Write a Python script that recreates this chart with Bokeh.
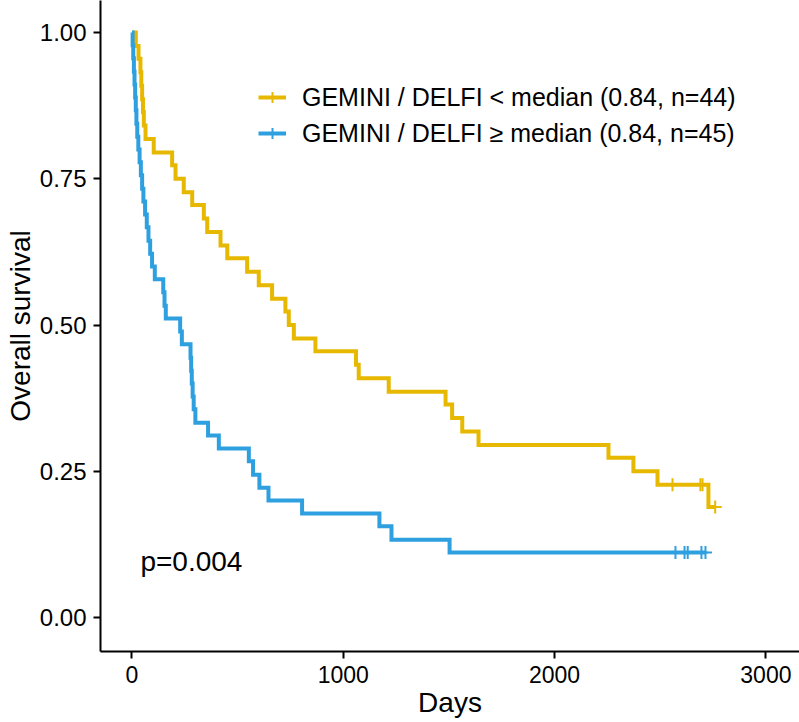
from bokeh.plotting import figure
from bokeh.models import Range1d, FixedTicker, Label, Legend, LegendItem, NumeralTickFormatter
from bokeh.embed import file_html
from bokeh.resources import INLINE

FONT = "Liberation Sans"

# ---- data ----
# Group: GEMINI / DELFI < median (n=44)
low_time = [0, 18, 31, 40, 44, 48, 52, 56, 64, 103, 190, 206, 245, 285, 340, 356,
            419, 451, 545, 600, 663, 726, 742, 766, 868, 1060, 1073, 1215, 1484,
            1515, 1563, 1640, 2255, 2373, 2487, 2728, 2760]
low_surv = [1.000, 0.977, 0.955, 0.932, 0.909, 0.886, 0.864, 0.841, 0.818, 0.795,
            0.773, 0.750, 0.727, 0.705, 0.682, 0.659, 0.636, 0.614, 0.591, 0.568,
            0.545, 0.523, 0.500, 0.477, 0.455, 0.432, 0.409, 0.386, 0.364, 0.341,
            0.318, 0.295, 0.273, 0.250, 0.227, 0.189, 0.189]
low_cens_time = [2558, 2690, 2700, 2760]
low_cens_surv = [0.227, 0.227, 0.227, 0.189]

# Group: GEMINI / DELFI >= median (n=45)
high_time = [0, 3, 6, 9, 12, 15, 18, 21, 25, 30, 36, 42, 48, 54, 62, 70, 78, 86, 95,
             108, 148, 154, 160, 228, 236, 277, 280, 283, 287, 292, 300, 360, 411,
             553, 573, 603, 646, 805, 1171, 1228, 1503, 2714]
high_surv = [1.000, 0.978, 0.956, 0.933, 0.911, 0.889, 0.867, 0.844, 0.822, 0.800,
             0.778, 0.756, 0.733, 0.711, 0.689, 0.667, 0.644, 0.622, 0.600, 0.578,
             0.556, 0.533, 0.511, 0.489, 0.467, 0.444, 0.422, 0.400, 0.378, 0.356,
             0.333, 0.311, 0.289, 0.267, 0.244, 0.222, 0.200, 0.178, 0.156, 0.133,
             0.111, 0.111]
high_cens_time = [2572, 2615, 2630, 2695, 2714]
high_cens_surv = [0.111, 0.111, 0.111, 0.111, 0.111]

labels = ["GEMINI / DELFI < median (0.84, n=44)", "GEMINI / DELFI \u2265 median (0.84, n=45)"]
colors = ["#E7B800", "#2E9FDF"]
x_ticks = [0, 1000, 2000, 3000]
y_ticks = [0.0, 0.25, 0.5, 0.75, 1.0]
p_text = "p=0.004"

# ---- figure ----
p = figure(width=799, height=722, output_backend="svg", toolbar_location=None,
           x_range=Range1d(-149, 3159), y_range=Range1d(-0.0581, 1.0547),
           min_border_left=100, min_border_right=0, min_border_top=0, min_border_bottom=71)
p.outline_line_color = None
p.xgrid.visible = False
p.ygrid.visible = False
p.background_fill_color = "white"

for ax in (p.xaxis[0], p.yaxis[0]):
    ax.axis_line_color = "black"
    ax.axis_line_width = 2
    ax.major_tick_line_color = "black"
    ax.major_tick_line_width = 2
    ax.major_tick_out = 7
    ax.major_tick_in = 0
    ax.minor_tick_line_color = None
    ax.major_label_text_font = FONT
    ax.major_label_text_color = "black"
    ax.axis_label_text_font = FONT
    ax.axis_label_text_font_style = "normal"
    ax.axis_label_text_font_size = "28px"
    ax.axis_label_text_color = "black"

p.xaxis.ticker = FixedTicker(ticks=x_ticks)
p.yaxis.ticker = FixedTicker(ticks=y_ticks)
p.yaxis.formatter = NumeralTickFormatter(format="0.00")
p.yaxis.major_label_text_font_size = "24px"
p.xaxis.major_label_text_font_size = "23px"
p.yaxis.major_label_standoff = 7
p.xaxis.major_label_standoff = 7
p.yaxis.axis_label = "Overall survival"
p.xaxis.axis_label = "Days"
p.yaxis.axis_label_standoff = 1
p.xaxis.axis_label_standoff = 1

r_low = p.step(low_time, low_surv, mode="after", line_color=colors[0], line_width=4, line_join="miter")
c_low = p.scatter(low_cens_time, low_cens_surv, marker="cross", size=13, line_color=colors[0], line_width=2)
r_high = p.step(high_time, high_surv, mode="after", line_color=colors[1], line_width=4, line_join="miter")
c_high = p.scatter(high_cens_time, high_cens_surv, marker="cross", size=13, line_color=colors[1], line_width=2)

legend = Legend(items=[LegendItem(label=labels[0], renderers=[r_low, c_low]),
                       LegendItem(label=labels[1], renderers=[r_high, c_high])],
                location=(158, 500), orientation="vertical",
                padding=0, margin=0, spacing=0,
                glyph_width=28, glyph_height=36, label_height=36, label_standoff=16,
                label_text_font=FONT, label_text_font_size="25px", label_text_color="black",
                border_line_alpha=0, background_fill_alpha=0)
p.add_layout(legend)

p.add_layout(Label(x=40, y=0.095, text=p_text, text_font=FONT, text_font_size="28px",
                   text_color="black", text_baseline="alphabetic", text_align="left"))

open("out.html", "w").write(file_html(p, INLINE))
